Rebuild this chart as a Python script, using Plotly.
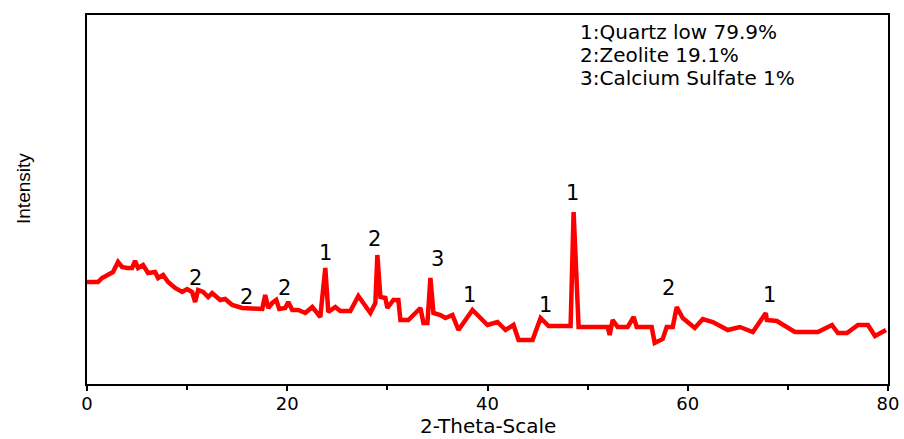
import plotly.graph_objects as go

# 2-theta positions and intensities (arbitrary units)
two_theta = [0.0, 1.1, 1.5, 2.1, 2.6, 3.1, 3.5, 4.0, 4.5, 4.8, 5.1, 5.6, 6.1, 6.8, 7.1, 7.6, 8.1, 8.8,
             9.5, 10.0, 10.5, 10.8, 11.1, 11.6, 12.1, 12.5, 13.0, 13.3, 13.8, 14.5, 15.5, 16.8, 17.5,
             17.8, 18.1, 18.5, 18.9, 19.2, 19.5, 19.8, 20.1, 20.5, 21.1, 21.8, 22.5, 23.3, 23.8, 24.1,
             24.8, 25.3, 26.3, 27.1, 28.3, 28.8, 29.0, 29.3, 29.8, 30.0, 30.6, 31.1, 31.3, 32.1, 33.3,
             33.6, 34.0, 34.3, 34.6, 35.3, 35.8, 36.5, 37.1, 38.5, 39.3, 40.0, 41.0, 41.8, 42.6, 43.1,
             44.5, 45.3, 46.1, 48.3, 48.6, 49.1, 52.0, 52.2, 52.5, 53.0, 54.0, 54.6, 54.9, 56.4, 56.7,
             57.5, 57.9, 58.5, 58.9, 59.5, 60.7, 61.5, 62.5, 64.0, 65.2, 66.5, 67.8, 67.9, 68.9, 70.7,
             73.0, 74.4, 75.0, 75.9, 77.0, 78.0, 78.7, 79.5, 79.8]
intensity = [102, 102, 106, 109, 112, 122, 117, 116, 116, 123, 116, 119, 111, 112, 106, 109, 102, 96,
             92, 95, 92, 82, 94, 92, 87, 91, 87, 84, 85, 79, 76, 75, 75,
             89, 76, 81, 84, 75, 76, 76, 82, 74, 74, 71, 77, 67, 116, 72,
             77, 73, 73, 88, 71, 81, 129, 87, 86, 76, 84, 84, 64, 64, 76,
             61, 61, 106, 71, 69, 66, 69, 54, 74, 66, 59, 62, 54, 59, 44,
             44, 66, 58, 58, 172, 57, 57, 49, 64, 57, 57, 67, 57, 57, 41,
             45, 57, 57, 77, 66, 56, 65, 62, 54, 57, 52, 71, 64, 63, 52,
             52, 59, 51, 51, 59, 59, 48, 53, 54]

# peak labels: phase id, 2-theta, label height
peak_ids = ["2", "2", "2", "1", "2", "3", "1", "1", "1", "2", "1"]
peak_x = [10.8, 15.9, 19.7, 23.8, 28.7, 35.0, 38.2, 45.8, 48.5, 58.1, 68.2]
peak_y = [106, 87, 96, 131, 145, 125, 89, 79, 191, 96, 89]

phase_lines = ["1:Quartz low 79.9%", "2:Zeolite 19.1%", "3:Calcium Sulfate 1%"]
phase_y = [352, 329, 306]

x_ticks = [0, 20, 40, 60, 80]

FONT = "DejaVu Sans, Liberation Sans, Arial"

fig = go.Figure()
fig.add_trace(go.Scatter(x=two_theta, y=intensity, mode="lines",
                         line=dict(color="#ff0000", width=4.5), showlegend=False,
                         hoverinfo="skip"))

ann = []
for t, x, y in zip(peak_ids, peak_x, peak_y):
    ann.append(dict(x=x, y=y, xref="x", yref="y", text=t, showarrow=False,
                    font=dict(family=FONT, size=21, color="black"),
                    xanchor="center", yanchor="middle"))
for t, y in zip(phase_lines, phase_y):
    ann.append(dict(x=49.0, y=y, xref="x", yref="y", text=t, showarrow=False,
                    font=dict(family=FONT, size=20, color="black"),
                    xanchor="left", yanchor="middle"))
ann.append(dict(x=0.5, y=-0.149, xref="paper", yref="paper", text="2-Theta-Scale",
                showarrow=False, font=dict(family=FONT, size=20, color="black"),
                xanchor="center", yanchor="bottom", borderpad=0))
ann.append(dict(x=-0.08, y=0.531, xref="paper", yref="paper", text="Intensity",
                showarrow=False, textangle=-90,
                font=dict(family="Liberation Sans, Arial", size=19, color="black"),
                xanchor="center", yanchor="middle"))

fig.update_layout(
    width=904, height=439,
    margin=dict(l=87, r=16, t=15, b=55, autoexpand=False),
    paper_bgcolor="white", plot_bgcolor="white",
    annotations=ann,
    xaxis=dict(range=[0, 80], tickvals=x_ticks, ticktext=[str(v) for v in x_ticks],
               automargin=False, ticklabelstandoff=-3,
               ticks="outside", ticklen=5, tickwidth=2, tickcolor="black",
               minor=dict(tickvals=[10, 30, 50, 70], ticks="outside", ticklen=4,
                          tickwidth=2, tickcolor="black"),
               showline=True, linewidth=2, linecolor="black", mirror=True,
               showgrid=False, zeroline=False,
               tickfont=dict(family=FONT, size=18, color="black")),
    yaxis=dict(range=[0, 369], showticklabels=False, ticks="", automargin=False,
               showline=True, linewidth=2, linecolor="black", mirror=True,
               showgrid=False, zeroline=False),
)

fig.write_html("out.html")
